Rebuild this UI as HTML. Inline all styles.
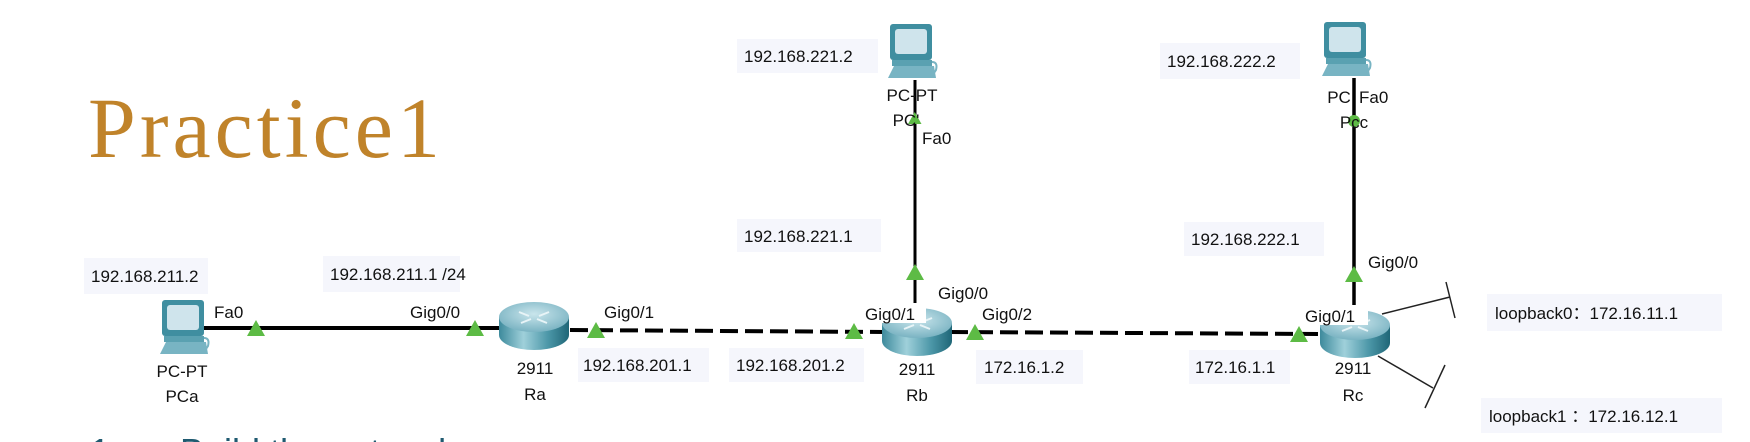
<!DOCTYPE html>
<html><head><meta charset="utf-8"><style>
html,body{margin:0;padding:0;background:#fff;width:1750px;height:442px;overflow:hidden;position:relative;}
svg{display:block;position:absolute;left:0;top:0;}
text{font-family:"Liberation Sans",sans-serif;font-size:17px;fill:#111;}
#bottom{position:absolute;left:0;top:430px;width:1750px;height:12px;overflow:hidden;}
#bottom span{position:absolute;top:4px;font-family:"Liberation Sans",sans-serif;font-size:36px;line-height:36px;color:#1f5a70;white-space:nowrap;}
</style></head><body>
<svg width="1750" height="442" viewBox="0 0 1750 442" xmlns="http://www.w3.org/2000/svg">
<defs>
<linearGradient id="rb" x1="0" x2="1" y1="0" y2="0">
<stop offset="0" stop-color="#3d8a9c"/><stop offset="0.35" stop-color="#9fd0da"/><stop offset="0.7" stop-color="#4c97a8"/><stop offset="1" stop-color="#1f6677"/>
</linearGradient>
<radialGradient id="rt" cx="0.5" cy="0.4" r="0.6">
<stop offset="0" stop-color="#c9e5ec"/><stop offset="1" stop-color="#7ab3c2"/>
</radialGradient>
<g id="router">
<path d="M0,15 L0,33 A35,15 0 0 0 70,33 L70,15 Z" fill="url(#rb)"/>
<ellipse cx="35" cy="15" rx="35" ry="15" fill="url(#rt)"/>
<path d="M20,10 l10,4 M50,10 l-10,4 M22,21 l10,-4 M48,21 l-10,-4" stroke="#e8f4f7" stroke-width="2"/>
</g>
<g id="pc">
<rect x="2" y="0" width="42" height="36" rx="3" fill="#3f8ea0"/>
<rect x="7" y="5" width="32" height="25" rx="3" fill="#cfe4ec"/>
<rect x="4" y="36" width="40" height="6" fill="#5aa1b1"/>
<path d="M0,54 L6,42 L46,42 L48,54 Z" fill="#78b4c3"/>
<path d="M44,38 q6,0 4,8 l-4,6" stroke="#78b4c3" stroke-width="2" fill="none"/>
</g>
<g id="tri"><path d="M0,16 L9,0 L18,16 Z" fill="#5dbb45"/></g>
</defs>

<text x="88" y="157" style="font-family:'Liberation Serif',serif;font-size:86px;fill:#c0832a;letter-spacing:4px">Practice1</text>

<line x1="200" y1="328" x2="500" y2="328" stroke="#000" stroke-width="4"/>
<line x1="570" y1="330" x2="885" y2="332" stroke="#000" stroke-width="4" stroke-dasharray="18,7"/>
<line x1="950" y1="332" x2="1322" y2="334" stroke="#000" stroke-width="4" stroke-dasharray="18,7"/>
<line x1="915" y1="80" x2="915" y2="312" stroke="#000" stroke-width="3"/>
<line x1="1354" y1="78" x2="1354" y2="312" stroke="#000" stroke-width="3.5"/>
<line x1="1382" y1="314" x2="1450" y2="297" stroke="#222" stroke-width="1.5"/>
<line x1="1446" y1="282" x2="1455" y2="318" stroke="#222" stroke-width="1.5"/>
<line x1="1378" y1="356" x2="1433" y2="388" stroke="#222" stroke-width="1.5"/>
<line x1="1425" y1="408" x2="1445" y2="365" stroke="#222" stroke-width="1.5"/>

<use href="#pc" x="160" y="300"/>
<use href="#pc" x="888" y="24"/>
<use href="#pc" x="1322" y="22"/>
<use href="#router" x="499" y="302"/>
<use href="#router" x="882" y="308"/>
<use href="#router" x="1320" y="310"/>

<g fill="#f5f6fc">
<rect x="84" y="258" width="124" height="36"/>
<rect x="323" y="256" width="137" height="36"/>
<rect x="578" y="348" width="131" height="34"/>
<rect x="729" y="348" width="135" height="34"/>
<rect x="976" y="350" width="107" height="34"/>
<rect x="1189" y="350" width="101" height="34"/>
<rect x="737" y="39" width="141" height="34"/>
<rect x="737" y="219" width="144" height="33"/>
<rect x="1160" y="43" width="140" height="36"/>
<rect x="1184" y="222" width="140" height="34"/>
<rect x="1487" y="294" width="235" height="37"/>
<rect x="1481" y="398" width="241" height="35"/>
</g>
<text x="91" y="282">192.168.211.2</text>
<text x="330" y="280">192.168.211.1 /24</text>
<text x="583" y="371">192.168.201.1</text>
<text x="736" y="371">192.168.201.2</text>
<text x="984" y="373">172.16.1.2</text>
<text x="1195" y="373">172.16.1.1</text>
<text x="744" y="62">192.168.221.2</text>
<text x="744" y="242">192.168.221.1</text>
<text x="1167" y="67">192.168.222.2</text>
<text x="1191" y="245">192.168.222.1</text>
<text x="1495" y="319">loopback0：172.16.11.1</text>
<text x="1489" y="422">loopback1 ：172.16.12.1</text>

<rect x="935" y="283" width="60" height="20" fill="#fff"/>
<rect x="862" y="303" width="64" height="20" fill="#fff"/>
<rect x="1302" y="305" width="66" height="20" fill="#fff"/>
<text x="214" y="318">Fa0</text>
<text x="410" y="318">Gig0/0</text>
<text x="604" y="318">Gig0/1</text>
<text x="865" y="320">Gig0/1</text>
<text x="982" y="320">Gig0/2</text>
<text x="938" y="299">Gig0/0</text>
<text x="922" y="144">Fa0</text>
<text x="1368" y="268">Gig0/0</text>
<text x="1305" y="322">Gig0/1</text>
<text x="1359" y="103">Fa0</text>

<use href="#tri" x="247" y="320"/>
<use href="#tri" x="466" y="320"/>
<use href="#tri" x="587" y="322"/>
<use href="#tri" x="845" y="323"/>
<use href="#tri" x="966" y="324"/>
<use href="#tri" x="1290" y="326"/>
<use href="#tri" x="906" y="264"/>
<use href="#tri" x="1345" y="266"/>
<g transform="translate(908,112) scale(0.75)"><use href="#tri"/></g>
<circle cx="1354" cy="121" r="6" fill="#5dbb45"/>

<g text-anchor="middle">
<text x="182" y="377">PC-PT</text><text x="182" y="402">PCa</text>
<text x="535" y="374">2911</text><text x="535" y="400">Ra</text>
<text x="917" y="375">2911</text><text x="917" y="401">Rb</text>
<text x="1353" y="374">2911</text><text x="1353" y="401">Rc</text>
<text x="912" y="101">PC-PT</text><text x="906" y="126">PC'</text>
<text x="1339" y="103">PC</text><text x="1354" y="128">Pcc</text>
</g>
</svg>
<div id="bottom"><span style="left:90px">1.</span><span style="left:180px">Build the network</span></div>
</body></html>
